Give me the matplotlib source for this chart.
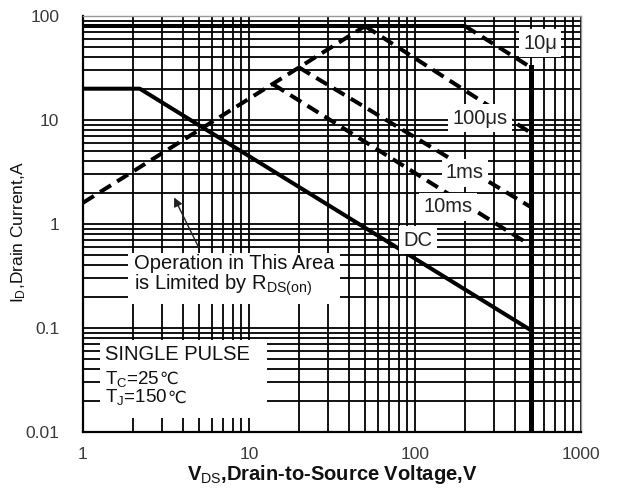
import matplotlib
matplotlib.use('Agg')
import matplotlib.pyplot as plt
from matplotlib.patches import Rectangle
from matplotlib.ticker import LogLocator, FixedLocator, FixedFormatter, NullFormatter

plt.rcParams['font.family'] = ['Liberation Sans', 'DejaVu Sans']
plt.rcParams['mathtext.fontset'] = 'custom'
plt.rcParams['mathtext.rm'] = 'Liberation Sans'
plt.rcParams['mathtext.bf'] = 'Liberation Sans:bold'
plt.rcParams['mathtext.it'] = 'Liberation Sans:italic'

# ---- data ----
v_top = [1, 200]
i_top = [80, 80]
v_10us = [200, 500]
i_10us = [80, 32]
v_rds = [1, 50]
i_rds = [1.6, 80]
v_100us = [50, 500]
i_100us = [80, 7.5]
v_1ms = [20, 500]
i_1ms = [32, 1.45]
v_10ms = [14, 500]
i_10ms = [22, 0.62]
v_dc = [1, 2.2, 500]
i_dc = [20, 20, 0.095]
v_bv = [500, 500]
i_bv = [0.01, 32]

x_ticks = [1, 10, 100, 1000]
x_ticklabels = ['1', '10', '100', '1000']
y_ticks = [0.01, 0.1, 1, 10, 100]
y_ticklabels = ['0.01', '0.1', '1', '10', '100']

curve_labels = ['10\u03bc', '100\u03bcs', '1ms', '10ms', 'DC']
curve_label_v = [566, 246, 200, 158, 104]
curve_label_i = [55, 10.4, 3.1, 1.46, 0.70]

fig = plt.figure(figsize=(6.17, 4.88), dpi=100)
ax = fig.add_axes([0.1345, 0.1148, 0.8072, 0.8524])
ax.set_xscale('log')
ax.set_yscale('log')
ax.set_xlim(1, 1000)
ax.set_ylim(0.01, 100)

ax.xaxis.set_major_locator(FixedLocator(x_ticks))
ax.xaxis.set_major_formatter(FixedFormatter(x_ticklabels))
ax.yaxis.set_major_locator(FixedLocator(y_ticks))
ax.yaxis.set_major_formatter(FixedFormatter(y_ticklabels))
ax.xaxis.set_minor_locator(LogLocator(base=10, subs=range(2, 10), numticks=20))
ax.yaxis.set_minor_locator(LogLocator(base=10, subs=range(2, 10), numticks=20))
ax.xaxis.set_minor_formatter(NullFormatter())
ax.yaxis.set_minor_formatter(NullFormatter())

ax.grid(which='both', color='black', lw=1.3)
ax.set_axisbelow(True)
ax.tick_params(which='both', length=0, labelsize=12.5, colors='#3a3a3a')
ax.tick_params(axis='x', pad=11)
ax.tick_params(axis='y', pad=17)

for s in ['left', 'bottom']:
    ax.spines[s].set_linewidth(1.6)
    ax.spines[s].set_color('black')
for s in ['top', 'right']:
    ax.spines[s].set_linewidth(1.0)
    ax.spines[s].set_color('#999999')

solid = dict(color='black', lw=2.9, solid_capstyle='butt', zorder=3)
dash = dict(color='black', lw=2.9, dashes=(3.2, 1.8), zorder=3)

ax.plot(v_top, i_top, **solid)
ax.plot(v_10us, i_10us, **dash)
ax.plot(v_rds, i_rds, **dash)
ax.plot(v_100us, i_100us, **dash)
ax.plot(v_1ms, i_1ms, **dash)
ax.plot(v_10ms, i_10ms, **dash)
ax.plot(v_dc, i_dc, **solid)
ax.plot(v_bv, i_bv, color='black', lw=3.6, zorder=3)

box = dict(facecolor='white', edgecolor='none', pad=3)
for lab, xv, yv in zip(curve_labels, curve_label_v, curve_label_i):
    ax.text(xv, yv, lab, fontsize=14.5, color='#222222', ha='center', va='center',
            bbox=box, zorder=5)

ax.text(2.03, 0.315, 'Operation in This Area\nis Limited by R$_{\\mathrm{DS(on)}}$',
        fontsize=14.5, color='#111111', ha='left', va='center', linespacing=1.0,
        bbox=dict(facecolor='white', edgecolor='none', pad=4), zorder=5)
ax.annotate('', xy=(3.48, 1.9), xytext=(5.07, 0.56),
            arrowprops=dict(arrowstyle='-|>', color='#222222', lw=1.0,
                            mutation_scale=13), zorder=6)

# white background block behind the test-condition note
ax.add_patch(Rectangle((0.034, 0.034), 0.335, 0.188, transform=ax.transAxes,
                       facecolor='white', edgecolor='none', zorder=4))
note_x = 1.36
ax.text(note_x, 0.055, 'SINGLE PULSE', fontsize=14.5, color='#111111',
        ha='left', va='center', zorder=5)
note_lines = ['T$_\\mathrm{C}$=25', 'T$_\\mathrm{J}$=150']
note_unit = '\u2103'
note_i = [0.029, 0.0193]
for txt, yv in zip(note_lines, note_i):
    t = ax.text(note_x, yv, txt, fontsize=13.5, color='#111111', ha='left',
                va='baseline', zorder=5)
    ax.annotate(note_unit, xy=(1, yv), xycoords=(t, 'data'), fontsize=12,
                family=['DejaVu Sans'], color='#111111', ha='left',
                va='baseline', zorder=5)

ax.set_xlabel('V$_\\mathrm{DS}$,Drain-to-Source Voltage,V', fontsize=14.5,
              fontweight='bold', color='#111111')
ax.xaxis.set_label_coords(0.5, -0.074)
ax.xaxis.label.set_va('top')
ax.set_ylabel('I$_\\mathrm{D}$,Drain Current,A', fontsize=12.5, color='#111111')
ax.yaxis.set_label_coords(-0.11, 0.48)

fig.savefig('out.png', dpi=100)
